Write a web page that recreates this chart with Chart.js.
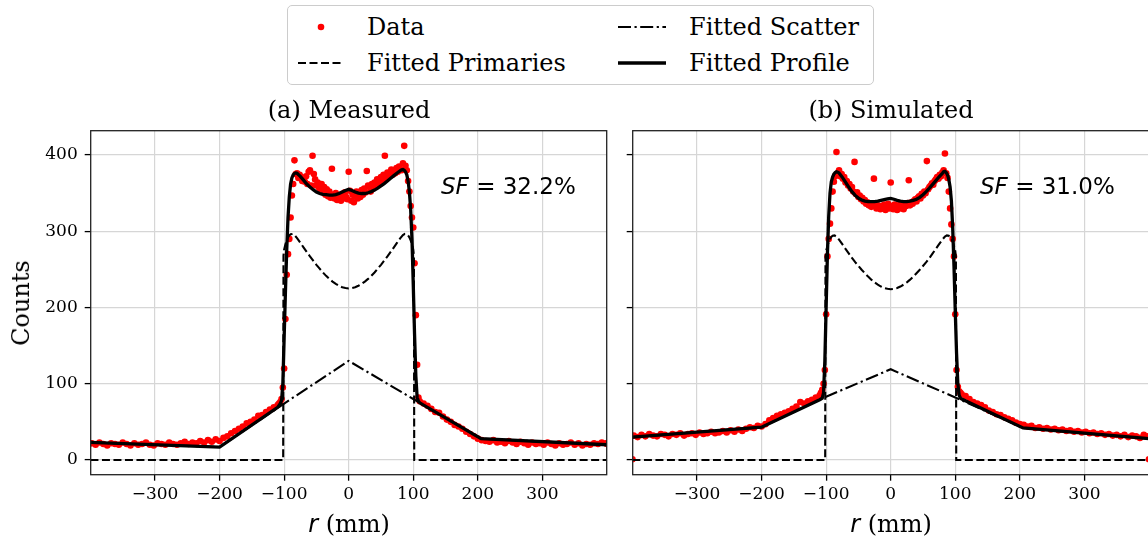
<!DOCTYPE html>
<html lang="en">
<head>
<meta charset="UTF-8">
<title>Radial profiles: measured vs simulated</title>
<script src="https://cdn.jsdelivr.net/npm/chart.js"></script>
<style>
    body {
        margin: 0;
        width: 1148px;
        height: 539px;
        overflow: hidden;
        position: relative;
        background: #fff;
        font-family: "DejaVu Serif", serif;
        color: #000;
    }
    canvas { position: absolute; top: 0; }
    .txt {
        position: absolute;
        white-space: nowrap;
        transform: translate(-50%, -50%);
        line-height: 1;
    }
    .title { font-size: 24px; }
    .xlab { font-size: 24px; }
    .sf { font-family: "DejaVu Sans", sans-serif; font-size: 23px; transform: translate(0, -50%); }
    #legend {
        position: absolute;
        left: 287px; top: 5px;
        width: 585px; height: 78px;
        border: 1px solid #cccccc;
        border-radius: 5px;
        background: #fff;
    }
    .lg { position: absolute; font-size: 24px; line-height: 1; transform: translate(0, -50%); white-space: nowrap; }
</style>
</head>
<body>
<canvas id="chartA" width="620" height="539" style="left:0"></canvas>
<canvas id="chartB" width="560" height="539" style="left:600px"></canvas>

<div id="legend">
    <svg width="585" height="78" style="position:absolute;left:0;top:0">
        <circle cx="33" cy="21" r="3.3" fill="#ff0000"/>
        <line x1="10" y1="57" x2="56" y2="57" stroke="#000" stroke-width="2.1" stroke-dasharray="8 3.5"/>
        <line x1="330" y1="21" x2="378" y2="21" stroke="#000" stroke-width="2.1" stroke-dasharray="13 3.5 2.2 3.5"/>
        <line x1="330" y1="57" x2="378" y2="57" stroke="#000" stroke-width="3.3"/>
    </svg>
    <div class="lg" style="left:79px;top:21px">Data</div>
    <div class="lg" style="left:79px;top:57px">Fitted Primaries</div>
    <div class="lg" style="left:401px;top:21px">Fitted Scatter</div>
    <div class="lg" style="left:401px;top:57px">Fitted Profile</div>
</div>

<div class="txt title" style="left:349px;top:110px">(a) Measured</div>
<div class="txt title" style="left:891px;top:110px">(b) Simulated</div>
<div class="txt xlab" style="left:349px;top:524px"><i style="font-family:'DejaVu Sans'">r</i> (mm)</div>
<div class="txt xlab" style="left:891px;top:524px"><i style="font-family:'DejaVu Sans'">r</i> (mm)</div>
<div class="txt xlab" style="left:21px;top:303px;transform:translate(-50%,-50%) rotate(-90deg)">Counts</div>
<div class="txt sf" style="left:441px;top:186px"><i>SF</i> = 32.2%</div>
<div class="txt sf" style="left:980px;top:186px"><i>SF</i> = 31.0%</div>

<script>
// tick positions
const xTicks = [-300, -200, -100, 0, 100, 200, 300];
const yTicks = [0, 100, 200, 300, 400];

// radial positions of the data points (mm)
const rData = [
    -400,
    -398,-392,-386,-380,-374,-368,-362,-356,-350,-344,-338,-332,
    -326,-320,-314,-308,-302,-296,-290,-284,-278,-272,-266,-260,
    -254,-248,-242,-236,-230,-224,-218,-212,-206,-200,-194,-188,
    -182,-176,-170,-164,-158,-152,-146,-140,-134,-128,-122,-116,
    -110,-108,-106,-104,-102,-100,-98,-96,-94,-92,-90,-88,
    -86,-84,-82,-80,-78,-76,-74,-72,-70,-68,-66,-64,
    -62,-60,-58,-56,-54,-52,-50,-48,-46,-44,-42,-40,
    -38,-36,-34,-32,-30,-28,-26,-24,-22,-20,-18,-16,
    -14,-12,-10,-8,-6,-4,-2,0,2,4,6,8,
    10,12,14,16,18,20,22,24,26,28,30,32,
    34,36,38,40,42,44,46,48,50,52,54,56,
    58,60,62,64,66,68,70,72,74,76,78,80,
    82,84,86,88,90,92,94,96,98,100,102,104,
    106,108,110,
    116,122,128,134,140,146,152,158,164,170,176,182,
    188,194,200,206,212,218,224,230,236,242,248,254,
    260,266,272,278,284,290,296,302,308,314,320,326,
    332,338,344,350,356,362,368,374,380,386,392,398,
    400
];

// (a) measured counts, same order as rData
const countsMeasured = [
    22,
    22,20,23,21,19,22,21,20,23,21,19,22,
    20,21,23,20,19,22,21,20,23,21,20,22,
    24,21,23,22,25,23,26,24,27,25,29,31,
    35,38,41,44,48,50,53,58,59,63,66,69,
    72,74,76,80,95,120,185,243,270,290,318,347,
    362,393,375,376,370,374,371,366,368,365,372,362,
    378,380,360,399,375,368,360,364,357,355,362,351,
    358,348,355,346,352,344,382,348,343,350,341,347,
    345,340,349,343,351,345,342,378,353,340,348,338,
    346,352,343,349,345,354,348,356,351,379,360,358,
    352,362,356,364,360,368,364,362,371,367,374,399,
    370,377,373,376,381,374,379,376,383,378,385,381,
    380,389,412,386,380,366,352,333,318,305,258,190,
    125,82,77,
    74,71,67,63,62,57,53,50,46,44,41,37,
    34,31,28,26,25,24,26,23,24,22,25,23,
    21,24,22,20,23,21,22,20,23,21,19,22,
    20,21,23,20,22,19,21,20,22,21,23,22,
    21
];

// (b) simulated counts, same order as rData
const countsSimulated = [
    1,
    32,30,33,31,34,32,31,34,33,31,34,33,
    35,32,34,35,33,36,34,35,37,35,36,38,
    36,39,37,40,38,41,43,42,45,44,47,52,
    55,58,60,62,64,67,70,76,74,77,79,82,
    85,88,92,100,118,191,267,290,310,330,352,365,
    372,404,376,380,372,375,369,371,364,366,360,362,
    356,358,352,391,349,351,345,347,342,344,339,341,
    336,338,334,336,332,335,369,333,330,334,331,329,
    333,330,335,328,332,336,330,364,333,329,335,331,
    328,334,330,336,332,329,335,333,337,367,334,338,
    336,340,342,339,344,346,343,349,347,352,350,392,
    355,358,360,363,361,366,368,371,369,374,372,377,
    380,402,376,370,352,330,309,290,267,191,118,96,
    90,88,86,
    84,80,76,74,72,69,65,63,60,59,56,54,
    52,49,47,46,44,45,42,43,41,42,40,41,
    39,40,38,39,37,38,36,37,35,36,34,35,
    33,34,32,33,31,33,30,32,31,29,33,31,
    1
];

// fitted profile (solid)
const rFit = [
    -400, -200, -110,
    -106, -104, -102, -100, -98, -96, -94, -92, -90, -88, -86, -84, -82, -80,
    -75, -70, -65, -60, -55, -50, -45, -40, -35, -30, -25, -20, -15, -10, -5,
    0, 5, 10, 15, 20, 25, 30, 35, 40, 45, 50, 55, 60, 65, 70, 75,
    80, 82, 84, 86, 88, 90, 92, 94, 96, 98, 100, 102, 104, 106, 108, 110,
    205, 400
];
const profileMeasured = [
    23, 17, 69,
    74, 78, 100, 160, 220, 275, 318, 345, 362, 370, 374, 376, 376.5, 376,
    372, 367, 362, 358, 354.5, 351.5, 349.5, 348.5, 348, 347.5, 347.5, 348, 349.5, 351.5, 353.5,
    355, 353.5, 351.5, 350, 349.5, 349.5, 350.5, 352, 354, 356.5, 359.5, 362.5, 366, 369.5, 373, 376.5,
    379.5, 380.5, 381, 380, 378, 374, 366, 352, 328, 290, 230, 165, 110, 82, 77, 75,
    28, 20
];
const profileSimulated = [
    30, 43, 79,
    81, 88, 130, 200, 270, 320, 350, 365, 371, 375, 377, 378, 377.5, 376.5,
    371, 364.5, 358, 352, 347, 343.5, 341, 339.5, 339, 339, 339, 339.5, 340.5, 341.5, 342.5,
    343, 342, 340.5, 339.5, 339, 339, 339.5, 340.5, 342, 344.5, 348, 352, 356.5, 361.5, 366.5, 371.5,
    376, 378, 378.5, 377, 374, 368, 358, 340, 305, 255, 195, 140, 100, 85, 81, 80,
    42, 28
];

// fitted primaries (dashed)
const rPrim = [
    -400, -101.5, -101, -100, -98, -96, -94, -92, -90, -87, -84, -80,
    -75, -70, -65, -60, -55, -50, -45, -40, -35, -30, -25, -20, -15, -10, -5,
    0, 5, 10, 15, 20, 25, 30, 35, 40, 45, 50, 55, 60, 65, 70, 75,
    80, 84, 87, 90, 92, 94, 96, 98, 100, 101, 101.5, 400
];
const primMeasured = [
    0, 0, 268, 276, 283, 288, 292, 294.5, 296, 296.5, 295, 291,
    285, 279, 273, 267, 261.5, 256, 251, 246, 241.5, 237.5, 234, 231, 228.5, 226.5, 225.5,
    225, 225.5, 226.5, 228.5, 231, 234, 237.5, 241.5, 246, 251, 256, 261.5, 267, 273, 279, 285,
    291, 295, 296.5, 296, 294.5, 292, 288, 283, 276, 268, 0, 0
];
const primSimulated = [
    0, 0, 266, 274, 281, 286, 290, 292.5, 294, 294.5, 293, 289,
    283, 277, 271, 265, 259.5, 254.5, 249.5, 245, 240.5, 236.5, 233, 230, 227.5, 225.5, 224.5,
    224, 224.5, 225.5, 227.5, 230, 233, 236.5, 240.5, 245, 249.5, 254.5, 259.5, 265, 271, 277, 283,
    289, 293, 294.5, 294, 292.5, 290, 286, 281, 274, 266, 0, 0
];

// fitted scatter (dash-dot)
const rScat = [-400, -200, -100, 0, 100, 205, 400];
const scatMeasured = [23, 17, 74, 130, 80, 28, 20];
const scatSimulated = [30, 43, 83, 119, 82, 42, 28];

const pts = (xs, ys) => xs.map((x, i) => ({ x: x, y: ys[i] }));

const boxPlugin = {
    id: 'box',
    afterDraw(chart) {
        const a = chart.chartArea;
        const ctx = chart.ctx;
        ctx.save();
        ctx.strokeStyle = '#222';
        ctx.lineWidth = 1.3;
        ctx.strokeRect(a.left, a.top, a.right - a.left, a.bottom - a.top);
        ctx.restore();
    }
};

function fmt(v) {
    return v < 0 ? '\u2212' + Math.abs(v) : String(v);
}

function makeChart(id, counts, profile, prim, scat, showY, yWidth, padRight) {
    return new Chart(document.getElementById(id), {
        type: 'scatter',
        data: {
            datasets: [
                { label: 'Fitted Profile', data: pts(rFit, profile), showLine: true, borderColor: '#000',
                  borderWidth: 3.3, pointRadius: 0, order: 0, clip: 0 },
                { label: 'Fitted Scatter', data: pts(rScat, scat), showLine: true, borderColor: '#000',
                  borderWidth: 2.1, borderDash: [13, 3.5, 2.2, 3.5], pointRadius: 0, order: 1, clip: 0 },
                { label: 'Fitted Primaries', data: pts(rPrim, prim), showLine: true, borderColor: '#000',
                  borderWidth: 2.1, borderDash: [8, 3.5], pointRadius: 0, order: 2, clip: 0 },
                { label: 'Data', data: pts(rData, counts), backgroundColor: '#ff0000', borderWidth: 0,
                  pointRadius: 3.3, order: 3, clip: 0 }
            ]
        },
        options: {
            responsive: false,
            animation: false,
            layout: { padding: { top: 130.7, right: padRight, bottom: 0, left: 0 } },
            plugins: { legend: { display: false }, tooltip: { enabled: false } },
            scales: {
                x: {
                    type: 'linear',
                    min: -399.6,
                    max: 399.6,
                    afterBuildTicks: s => { s.ticks = xTicks.map(v => ({ value: v })); },
                    afterFit: s => { s.height = 64.3; },
                    border: { display: false },
                    grid: { color: '#d6d6d6', lineWidth: 1.2, tickColor: '#000', tickLength: 6, tickWidth: 1.3 },
                    ticks: { font: { family: 'DejaVu Serif', size: 17 }, color: '#000', padding: 4,
                             maxRotation: 0, callback: v => fmt(v) }
                },
                y: {
                    min: -19.3,
                    max: 431.9,
                    afterBuildTicks: s => { s.ticks = yTicks.map(v => ({ value: v })); },
                    afterFit: s => { s.width = yWidth; },
                    border: { display: false },
                    grid: { color: '#d6d6d6', lineWidth: 1.2, tickColor: '#000', tickLength: 6, tickWidth: 1.3 },
                    ticks: { display: showY, font: { family: 'DejaVu Serif', size: 17 }, color: '#000', padding: 7,
                             callback: v => fmt(v) }
                }
            }
        },
        plugins: [boxPlugin]
    });
}

makeChart('chartA', countsMeasured, profileMeasured, primMeasured, scatMeasured, true, 90.7, 13.3);
makeChart('chartB', countsSimulated, profileSimulated, primSimulated, scatSimulated, false, 32.7, 11.3);
</script>
</body>
</html>
